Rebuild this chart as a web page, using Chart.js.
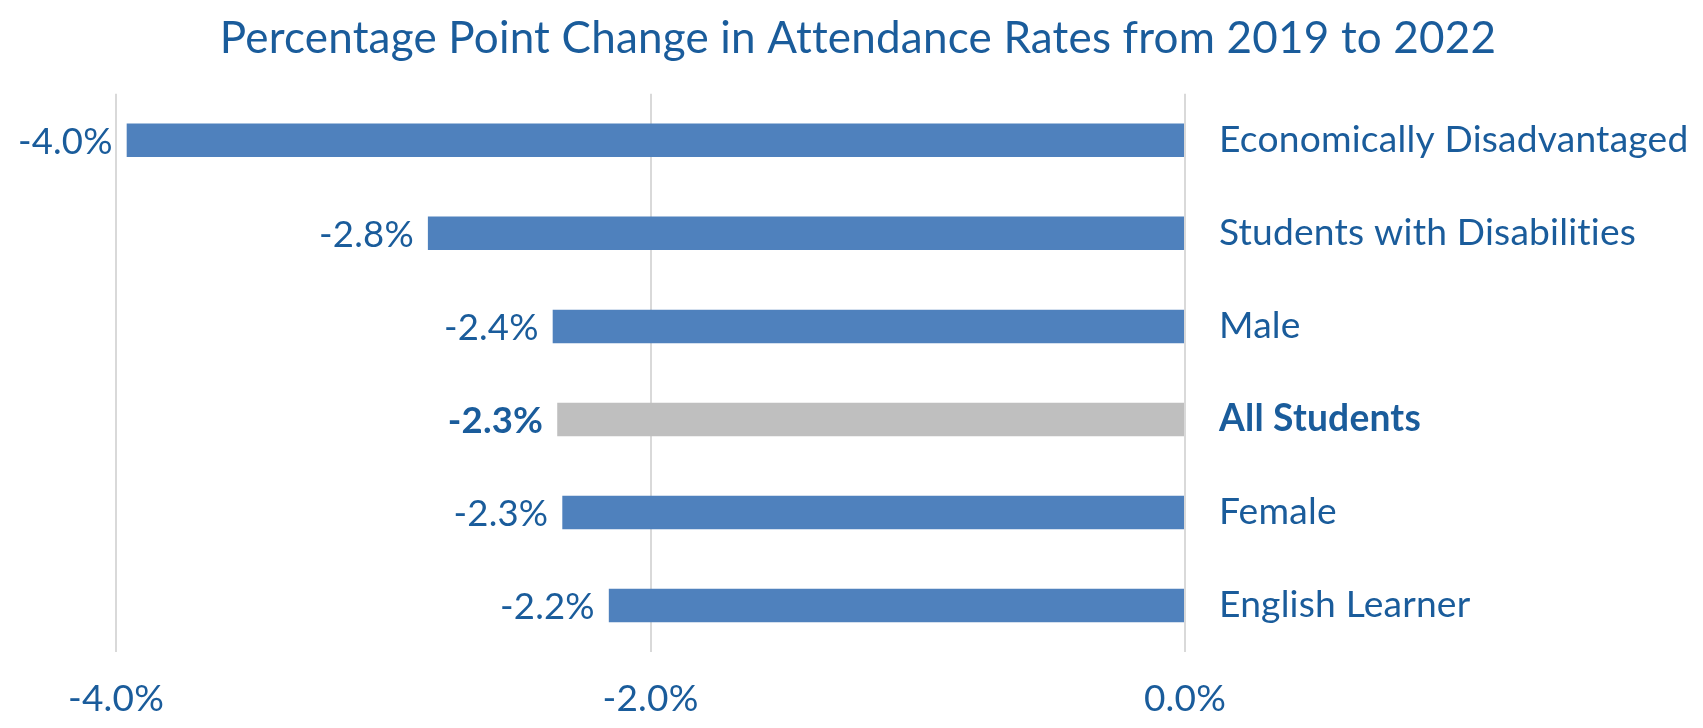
<!DOCTYPE html>
<html>
<head>
<meta charset="utf-8">
<script src="https://cdn.jsdelivr.net/npm/chart.js@4"></script>
<style>
  html, body { margin: 0; padding: 0; background: #fff; }
  #wrap { width: 1703px; height: 728px; position: relative; }
</style>
</head>
<body>
<div id="wrap"><canvas id="chartAttendance"></canvas></div>
<script>
// Datos del grafico
const categories = ['Economically Disadvantaged', 'Students with Disabilities', 'Male', 'All Students', 'Female', 'English Learner'];
const changes = [-3.96, -2.833, -2.366, -2.349, -2.33, -2.156];
const highlightCat = 'All Students';
const xMin = -4;
const xMax = 0;
const xStep = 2;

const TXT = '#1a5c9b';
const FONT = 'Lato';
const pct = v => Number(v).toFixed(1) + '%';

// sin ligaduras ("tt") como en la referencia
const noLigatures = {
  id: 'noLigatures',
  beforeDraw(chart) { chart.ctx.letterSpacing = '0.2px'; }
};

// Etiquetas de valor a la izquierda de cada barra
const barLabels = {
  id: 'barLabels',
  afterDatasetsDraw(chart) {
    const ctx = chart.ctx;
    const meta = chart.getDatasetMeta(0);
    ctx.save();
    ctx.fillStyle = TXT;
    ctx.textAlign = 'right';
    ctx.textBaseline = 'middle';
    meta.data.forEach((bar, i) => {
      const bold = categories[i] === highlightCat;
      ctx.font = (bold ? 'bold ' : '') + '36.5px ' + FONT;
      ctx.fillText(pct(changes[i]), Math.min(bar.x, bar.base) - 14, bar.y + 2);
    });
    ctx.restore();
  }
};

new Chart(document.getElementById('chartAttendance'), {
  type: 'bar',
  data: {
    labels: categories,
    datasets: [{
      data: changes,
      backgroundColor: categories.map(c => c === highlightCat ? '#bfbfbf' : '#4f81bd'),
      borderWidth: 0,
      barPercentage: 0.36,
      categoryPercentage: 1
    }]
  },
  options: {
    indexAxis: 'y',
    responsive: true,
    maintainAspectRatio: false,
    animation: false,
    layout: { padding: { left: 13, right: 0, top: 0, bottom: 6 } },
    plugins: {
      legend: { display: false },
      tooltip: { enabled: false },
      title: {
        display: true,
        text: 'Percentage Point Change in Attendance Rates from 2019 to 2022',
        color: TXT,
        font: { family: FONT, size: 44, weight: 'normal', lineHeight: 1.2 },
        padding: { top: 12, bottom: 29 }
      }
    },
    scales: {
      x: {
        min: xMin,
        max: xMax,
        ticks: {
          stepSize: xStep,
          color: TXT,
          padding: 25,
          font: { family: FONT, size: 37 },
          callback: v => pct(v)
        },
        grid: { color: '#d9d9d9', lineWidth: 2, drawTicks: false },
        border: { display: false },
        afterFit: scale => { scale.height = 70; scale.paddingLeft = 0; scale.paddingRight = 0; }
      },
      y: {
        position: 'right',
        ticks: {
          color: TXT,
          padding: 34,
          font: ctx => ({ family: FONT, size: 37.2, weight: categories[ctx.index] === highlightCat ? 'bold' : 'normal' })
        },
        grid: { display: false, drawTicks: false },
        border: { display: false },
        afterFit: scale => { scale.width = 518; scale.paddingTop = 0; scale.paddingBottom = 0; }
      },
      // eje vacio para reservar el margen izquierdo
      yLeft: {
        type: 'category',
        position: 'left',
        ticks: { display: false },
        grid: { display: false, drawTicks: false },
        border: { display: false },
        afterFit: scale => { scale.width = 103; scale.paddingTop = 0; scale.paddingBottom = 0; }
      }
    }
  },
  plugins: [noLigatures, barLabels]
});
</script>
</body>
</html>
